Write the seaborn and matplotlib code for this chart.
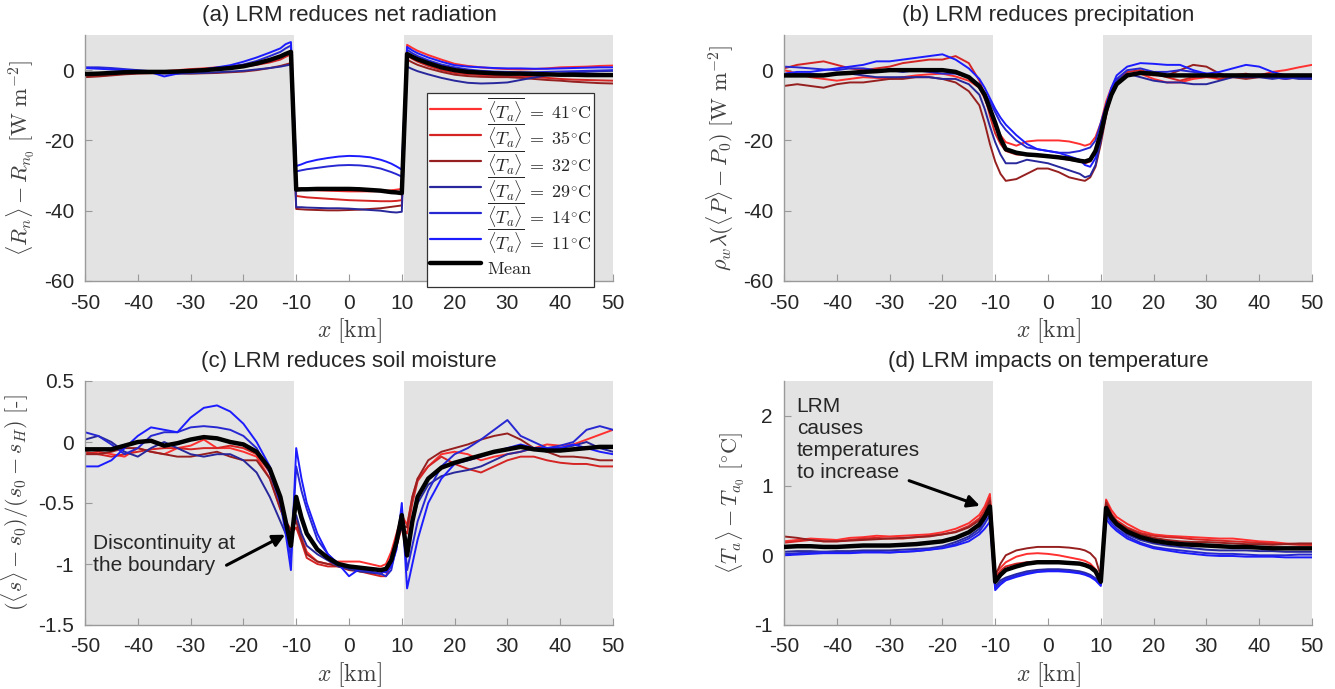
import numpy as np
import pandas as pd
import matplotlib
matplotlib.use("Agg")
import matplotlib.pyplot as plt
import seaborn as sns
from matplotlib.lines import Line2D

# ---------------- data ----------------
x_km = [-50, -47.5, -45, -42.5, -40, -37.5, -35, -32.5, -30, -27.5, -25, -22.5, -20, -17.5, -15,
        -13, -12, -11, -10, -9, -8,
        -6, -4, -2, 0, 2, 4, 6,
        7, 8, 9, 10, 11, 12, 13,
        15, 17.5, 20, 22.5, 25, 27.5, 30, 32.5, 35, 37.5, 40, 42.5, 45, 47.5, 50]

run_labels = ["41", "35", "32", "29", "14", "11"]
run_colors = ["#ff3030", "#d42424", "#962020", "#28289c", "#2828d2", "#1c1cff"]

# (a) net radiation
rn_41 = [-1.5, -1.2, -1.0, -0.8, -0.6, -0.5, -0.3, 0.0, 0.3, 0.5, 0.8, 1.0, 1.5, 2.0, 2.8,
         3.8, 4.6, 5.5, -33.5, -33.8, -34.0,
         -34.2, -34.3, -34.4, -34.5, -34.5, -34.5, -34.4,
         -34.3, -34.2, -34.0, -33.8, 7.2, 6.3, 5.5,
         4.3, 3.0, 1.8, 1.2, 0.8, 0.5, 0.3, 0.2, 0.3, 0.5, 0.8, 0.9, 1.0, 1.2, 1.3]
rn_35 = [-1.8, -1.6, -1.3, -1.0, -0.8, -0.7, -0.6, -0.4, -0.2, 0.0, 0.3, 0.6, 1.0, 1.5, 2.2,
         3.0, 3.8, 4.5, -35.8, -36.0, -36.2,
         -36.4, -36.6, -36.8, -37.0, -37.1, -37.2, -37.3,
         -37.3, -37.3, -37.2, -37.0, 4.2, 3.2, 2.4,
         1.2, 0.0, -0.8, -1.2, -1.4, -1.6, -1.7, -1.8, -2.0, -2.2, -2.5, -2.7, -2.8, -2.9, -3.0]
rn_32 = [-2.0, -1.8, -1.5, -1.2, -1.0, -0.9, -0.8, -0.9, -1.0, -0.9, -0.8, -0.6, -0.4, 0.0, 0.6,
         1.2, 1.6, 2.0, -39.5, -39.6, -39.7,
         -39.8, -39.9, -39.9, -39.8, -39.7, -39.5, -39.3,
         -39.1, -38.9, -38.7, -38.5, 3.0, 2.2, 1.5,
         0.5, -0.5, -1.3, -1.7, -1.9, -2.0, -2.0, -2.2, -2.5, -2.8, -3.0, -3.3, -3.5, -3.7, -3.8]
rn_29 = [-1.2, -1.0, -0.8, -0.6, -0.6, -0.8, -1.0, -1.0, -0.9, -0.8, -0.6, -0.4, -0.2, 0.2, 0.6,
         1.0, 1.3, 1.6, -39.0, -39.0, -39.1,
         -39.2, -39.3, -39.3, -39.4, -39.6, -39.8, -40.0,
         -40.2, -40.4, -40.5, -40.3, 1.0, 0.3, -0.3,
         -1.2, -2.2, -3.0, -3.6, -3.8, -3.7, -3.5, -2.8, -2.1, -1.5, -1.0, -0.7, -0.5, -0.3, -0.2]
rn_14 = [0.8, 0.8, 0.6, 0.3, 0.0, -0.3, -0.8, -0.5, -0.2, 0.2, 0.6, 1.0, 1.6, 2.6, 4.0,
         5.2, 6.2, 7.0, -28.8, -28.5, -28.2,
         -27.8, -27.4, -27.1, -27.0, -27.1, -27.4, -28.0,
         -28.5, -29.0, -29.6, -30.3, 5.8, 4.8, 4.0,
         2.8, 1.6, 0.8, 0.2, -0.2, -0.4, -0.5, -0.6, -0.6, -0.5, -0.4, -0.3, -0.2, -0.1, 0.0]
rn_11 = [0.6, 0.4, 0.2, 0.0, -0.2, -0.6, -1.8, -1.0, -0.4, 0.2, 0.8, 1.4, 2.4, 3.6, 5.0,
         6.2, 7.4, 8.0, -27.3, -26.8, -26.2,
         -25.5, -25.0, -24.6, -24.4, -24.5, -24.8, -25.5,
         -26.0, -26.6, -27.4, -28.3, 6.6, 5.6, 4.8,
         3.6, 2.4, 1.4, 1.0, 0.8, 0.6, 0.5, 0.5, 0.4, 0.4, 0.5, 0.6, 0.7, 0.8, 0.8]
rn_mean = [-1.1, -1.0, -0.8, -0.6, -0.5, -0.5, -0.5, -0.4, -0.2, 0.0, 0.3, 0.6, 1.1, 1.9, 2.9,
           3.9, 4.6, 5.2, -34.0, -33.9, -33.9,
           -33.8, -33.8, -33.8, -33.8, -33.9, -34.1, -34.3,
           -34.5, -34.7, -34.8, -35.0, 4.6, 3.8, 3.1,
           2.0, 0.8, 0.0, -0.5, -0.7, -0.9, -1.0, -1.0, -1.1, -1.2, -1.3, -1.3, -1.4, -1.4, -1.4]

# (b) precipitation
pr_41 = [0.0, -1.0, -2.0, -2.5, -3.0, -2.5, -2.0, -2.2, -2.5, -2.0, -1.5, -1.2, -1.0, -1.8, -3.0,
         -5.0, -8.0, -12.0, -16.0, -18.5, -20.5,
         -21.5, -20.3, -20.0, -20.0, -20.0, -20.3, -21.0,
         -21.5, -21.0, -19.0, -15.0, -9.0, -5.0, -3.0,
         -1.5, -1.0, -2.5, -3.5, -3.5, -2.5, -2.0, -2.5, -2.0, -1.5, -1.5, -0.5, 0.0, 0.8, 1.5]
pr_35 = [0.5, 1.5, 2.0, 2.5, 1.5, 0.5, 0.0, 0.5, 1.0, 2.0, 2.5, 3.0, 3.0, 4.0, 2.0,
         -3.0, -7.0, -13.0, -18.0, -21.0, -23.0,
         -24.0, -24.2, -24.5, -24.5, -25.0, -25.5, -26.0,
         -26.5, -26.0, -23.0, -17.0, -11.0, -6.0, -3.0,
         -0.5, 0.0, -1.0, -2.0, -3.0, -2.0, -1.5, -2.5, -1.5, -1.0, -2.0, -1.5, -2.0, -1.5, -1.5]
pr_32 = [-4.5, -4.0, -4.5, -5.0, -4.0, -3.5, -3.5, -3.0, -2.5, -2.5, -2.0, -2.0, -2.5, -3.5, -6.0,
         -10.0, -15.0, -21.0, -26.0, -29.5, -31.5,
         -31.0, -29.5, -28.0, -28.0, -29.0, -30.5, -31.2,
         -31.5, -30.5, -27.5, -21.0, -13.0, -7.0, -3.5,
         -1.0, -1.0, -1.5, -1.5, 0.0, 1.5, 1.0, -1.0, -2.0, -2.5, -2.0, -2.0, -2.5, -2.0, -2.5]
pr_29 = [-1.5, -1.0, -1.0, -1.5, -1.0, -1.0, -1.5, -2.0, -2.0, -2.0, -2.0, -2.0, -2.5, -2.5, -4.0,
         -7.0, -11.0, -16.0, -20.5, -24.0, -26.5,
         -26.5, -25.5, -26.0, -26.5, -27.5, -28.5, -29.5,
         -30.5, -30.0, -27.0, -20.0, -12.0, -6.0, -3.0,
         -1.0, -2.0, -3.0, -3.5, -3.5, -4.0, -4.0, -3.0, -2.0, -2.0, -2.0, -2.5, -2.0, -2.5, -2.5]
pr_14 = [1.0, 0.8, 0.5, 0.2, 0.0, 0.5, 0.5, 0.0, 0.0, -0.5, 0.0, -0.5, -1.0, -1.0, -2.0,
         -4.0, -6.5, -9.0, -12.0, -15.0, -17.0,
         -20.0, -22.0, -22.5, -23.0, -23.5, -23.5, -23.0,
         -22.5, -22.0, -20.0, -15.0, -10.0, -5.5, -2.5,
         0.0, 0.5, -0.5, -0.5, 0.0, -0.5, -1.0, -1.5, -1.5, -2.0, -1.5, -2.0, -2.5, -2.0, -2.0]
pr_11 = [-1.0, -0.5, -0.5, 0.0, 0.5, 1.0, 1.5, 2.5, 2.5, 3.0, 3.5, 4.0, 4.5, 3.0, 0.5,
         -2.5, -5.0, -8.0, -11.0, -13.5, -15.5,
         -18.5, -21.0, -22.5, -23.0, -23.5, -24.5, -25.5,
         -27.0, -27.5, -25.0, -18.0, -10.0, -5.0, -1.5,
         1.0, 2.0, 1.8, 1.5, 1.5, 0.0, -1.0, -0.5, 0.5, 1.5, 1.0, -0.5, -1.5, -2.0, -2.0]
pr_mean = [-1.5, -1.5, -1.5, -1.5, -1.0, -0.8, -0.5, -0.3, 0.0, 0.0, 0.0, 0.0, 0.0, -0.5, -2.0,
           -4.6, -7.0, -11.0, -15.0, -19.5, -22.5,
           -23.5, -24.0, -24.2, -24.5, -24.8, -25.2, -25.8,
           -26.0, -25.5, -23.0, -18.0, -11.5, -7.0, -4.0,
           -1.5, -0.8, -1.0, -1.5, -1.5, -1.5, -1.5, -1.5, -1.5, -1.5, -1.5, -1.5, -1.5, -1.5, -1.5]

# (c) soil moisture
sm_41 = [-0.1, -0.08, -0.1, -0.12, -0.05, -0.08, -0.1, -0.05, -0.03, 0.02, -0.05, -0.05, -0.08, -0.12, -0.3,
         -0.55, -0.65, -0.72, -0.62, -0.78, -0.9,
         -0.98, -1.0, -0.98, -0.98, -0.98, -1.0, -1.02,
         -1.0, -0.9, -0.75, -0.6, -0.68, -0.45, -0.3,
         -0.2, -0.1, -0.08, -0.1, -0.15, -0.12, -0.1, -0.08, -0.05, -0.02, -0.03, -0.02, 0.02, 0.06, 0.1]
sm_35 = [-0.08, -0.1, -0.12, -0.1, -0.08, -0.06, -0.05, -0.05, -0.06, -0.05, -0.05, -0.03, -0.05, -0.1, -0.25,
         -0.5, -0.65, -0.75, -0.7, -0.82, -0.95,
         -1.0, -1.02, -1.02, -1.04, -1.06, -1.08, -1.1,
         -1.1, -1.0, -0.85, -0.7, -0.75, -0.5, -0.32,
         -0.2, -0.12, -0.18, -0.22, -0.25, -0.2, -0.15, -0.12, -0.12, -0.15, -0.17, -0.18, -0.18, -0.2, -0.2]
sm_32 = [-0.1, -0.1, -0.08, -0.05, -0.05, -0.08, -0.1, -0.12, -0.12, -0.1, -0.08, -0.12, -0.15, -0.15, -0.3,
         -0.55, -0.65, -0.72, -0.65, -0.8, -0.92,
         -0.98, -1.0, -1.02, -1.05, -1.06, -1.07, -1.08,
         -1.05, -0.95, -0.8, -0.68, -0.7, -0.45, -0.3,
         -0.15, -0.08, -0.05, -0.02, 0.02, 0.05, 0.07, 0.02, -0.05, -0.08, -0.12, -0.12, -0.13, -0.15, -0.15]
sm_29 = [0.02, 0.05, 0.0, -0.08, -0.12, -0.05, 0.0, -0.05, -0.1, -0.12, -0.1, -0.1, -0.15, -0.25, -0.45,
         -0.65, -0.75, -0.8, -0.6, -0.75, -0.85,
         -0.92, -0.97, -1.02, -1.04, -1.06, -1.07, -1.08,
         -1.05, -0.95, -0.8, -0.7, -0.85, -0.65, -0.5,
         -0.35, -0.28, -0.25, -0.23, -0.2, -0.15, -0.1, -0.08, -0.05, -0.05, -0.05, -0.03, 0.0, -0.05, -0.08]
sm_14 = [0.08, 0.05, -0.02, -0.1, -0.05, 0.05, 0.08, 0.08, 0.12, 0.13, 0.12, 0.1, 0.05, -0.05, -0.25,
         -0.5, -0.7, -0.95, -0.2, -0.4, -0.55,
         -0.8, -0.92, -1.0, -1.03, -1.05, -1.06, -1.08,
         -1.1, -1.05, -0.85, -0.55, -1.05, -0.85, -0.65,
         -0.4, -0.2, -0.1, -0.05, 0.02, 0.1, 0.18, 0.05, 0.0, -0.05, -0.03, 0.0, 0.1, 0.13, 0.1]
sm_11 = [-0.2, -0.2, -0.15, -0.05, 0.05, 0.12, 0.1, 0.08, 0.2, 0.28, 0.3, 0.25, 0.15, 0.0, -0.2,
         -0.5, -0.75, -1.05, -0.05, -0.3, -0.5,
         -0.75, -0.92, -1.0, -1.1, -1.04, -1.04, -1.06,
         -1.07, -1.02, -0.88, -0.5, -1.2, -1.0, -0.8,
         -0.5, -0.3, -0.18, -0.15, -0.12, -0.08, -0.05, -0.02, -0.05, -0.05, -0.05, -0.02, -0.05, -0.08, -0.1]
sm_mean = [-0.06, -0.06, -0.06, -0.03, 0.0, 0.01, -0.03, -0.01, 0.02, 0.04, 0.03, 0.0, -0.02, -0.08, -0.22,
           -0.45, -0.65, -0.85, -0.45, -0.62, -0.75,
           -0.88, -0.95, -1.0, -1.02, -1.03, -1.04, -1.05,
           -1.04, -0.97, -0.82, -0.6, -0.93, -0.65, -0.45,
           -0.3, -0.21, -0.17, -0.14, -0.11, -0.08, -0.06, -0.04, -0.06, -0.07, -0.07, -0.06, -0.05, -0.04, -0.04]

# (d) temperature
ta_41 = [0.2, 0.22, 0.24, 0.23, 0.22, 0.25, 0.26, 0.28, 0.27, 0.28, 0.29, 0.3, 0.33, 0.38, 0.46,
         0.58, 0.7, 0.88, -0.25, -0.18, -0.1,
         -0.02, 0.02, 0.03, 0.02, 0.0, -0.03, -0.06,
         -0.08, -0.12, -0.2, -0.38, 0.8, 0.65, 0.55,
         0.45, 0.35, 0.3, 0.28, 0.27, 0.26, 0.25, 0.24, 0.24, 0.22, 0.2, 0.19, 0.17, 0.16, 0.15]
ta_35 = [0.18, 0.2, 0.22, 0.2, 0.2, 0.22, 0.24, 0.25, 0.24, 0.24, 0.26, 0.28, 0.3, 0.34, 0.42,
         0.53, 0.65, 0.82, -0.32, -0.22, -0.16,
         -0.12, -0.1, -0.09, -0.09, -0.09, -0.1, -0.11,
         -0.13, -0.16, -0.22, -0.36, 0.78, 0.6, 0.5,
         0.4, 0.32, 0.28, 0.26, 0.25, 0.23, 0.22, 0.21, 0.2, 0.19, 0.18, 0.17, 0.16, 0.15, 0.15]
ta_32 = [0.27, 0.25, 0.22, 0.2, 0.2, 0.21, 0.22, 0.23, 0.24, 0.25, 0.26, 0.27, 0.3, 0.33, 0.4,
         0.5, 0.6, 0.78, -0.3, -0.12, 0.0,
         0.07, 0.1, 0.12, 0.12, 0.12, 0.11, 0.09,
         0.07, 0.03, -0.05, -0.3, 0.75, 0.58, 0.47,
         0.38, 0.3, 0.25, 0.22, 0.2, 0.19, 0.19, 0.18, 0.17, 0.16, 0.16, 0.15, 0.16, 0.17, 0.17]
ta_29 = [0.05, 0.06, 0.06, 0.05, 0.06, 0.06, 0.07, 0.07, 0.07, 0.08, 0.09, 0.1, 0.13, 0.19, 0.27,
         0.38, 0.5, 0.65, -0.45, -0.36, -0.32,
         -0.27, -0.23, -0.21, -0.2, -0.2, -0.21, -0.23,
         -0.25, -0.28, -0.33, -0.4, 0.62, 0.5, 0.42,
         0.3, 0.22, 0.17, 0.14, 0.12, 0.1, 0.08, 0.07, 0.07, 0.07, 0.06, 0.06, 0.05, 0.05, 0.05]
ta_14 = [0.02, 0.03, 0.04, 0.05, 0.04, 0.04, 0.05, 0.05, 0.04, 0.05, 0.06, 0.08, 0.11, 0.16, 0.24,
         0.34, 0.45, 0.58, -0.47, -0.39, -0.34,
         -0.29, -0.25, -0.23, -0.22, -0.22, -0.23, -0.25,
         -0.27, -0.3, -0.34, -0.42, 0.58, 0.46, 0.38,
         0.27, 0.18, 0.12, 0.09, 0.07, 0.05, 0.03, 0.02, 0.02, 0.01, 0.0, 0.0, 0.0, 0.01, 0.01]
ta_11 = [0.0, 0.01, 0.02, 0.03, 0.03, 0.03, 0.04, 0.04, 0.04, 0.05, 0.06, 0.08, 0.1, 0.14, 0.2,
         0.3, 0.38, 0.48, -0.5, -0.42, -0.36,
         -0.31, -0.27, -0.24, -0.23, -0.23, -0.24, -0.26,
         -0.28, -0.31, -0.36, -0.44, 0.52, 0.42, 0.35,
         0.24, 0.16, 0.1, 0.07, 0.04, 0.02, 0.0, -0.01, -0.01, -0.02, -0.02, -0.02, -0.03, -0.03, -0.03]
ta_mean = [0.12, 0.13, 0.13, 0.12, 0.12, 0.13, 0.14, 0.14, 0.14, 0.15, 0.16, 0.18, 0.2, 0.25, 0.33,
           0.44, 0.55, 0.7, -0.38, -0.28, -0.21,
           -0.16, -0.12, -0.1, -0.1, -0.1, -0.11, -0.12,
           -0.14, -0.17, -0.23, -0.38, 0.68, 0.54, 0.45,
           0.34, 0.26, 0.21, 0.18, 0.16, 0.15, 0.14, 0.13, 0.12, 0.12, 0.11, 0.1, 0.1, 0.1, 0.1]

titles = ["(a) LRM reduces net radiation", "(b) LRM reduces precipitation",
          "(c) LRM reduces soil moisture", "(d) LRM impacts on temperature"]
ylabels = [r"$\langle R_n\rangle - R_{n_0}\ [\mathrm{W\ m^{-2}}]$",
           r"$\rho_w\lambda(\langle P\rangle - P_0)\ [\mathrm{W\ m^{-2}}]$",
           r"$(\langle s\rangle - s_0)/(s_0 - s_H)\ [\mathrm{\text{-}}]$",
           r"$\langle T_a\rangle - T_{a_0}\ [^{\circ}\mathrm{C}]$"]
xticks = [-50, -40, -30, -20, -10, 0, 10, 20, 30, 40, 50]

# ---------------- style ----------------
sns.set_theme(style="white")
plt.rcParams["font.family"] = ["Liberation Sans", "DejaVu Sans"]
plt.rcParams["mathtext.fontset"] = "cm"

fig = plt.figure(figsize=(13.35, 6.89), dpi=100)
W, H = 1335, 689
def add_ax(l, r, t, b):
    return fig.add_axes([l / W, 1 - b / H, (r - l) / W, (b - t) / H])

ax_a = add_ax(85, 613, 35, 281)
ax_b = add_ax(784, 1312, 35, 281)
ax_c = add_ax(85, 613, 381, 625)
ax_d = add_ax(784, 1312, 381, 625)

gray_bg = "#e3e3e3"
spine_col = "#9a9a9a"
txt_col = "#262626"

def draw_panel(ax, runs, mean, ylim, yticks, ytl, ylabel, title):
    ax.axvspan(-50, -10.5, color=gray_bg, lw=0, zorder=0)
    ax.axvspan(10.5, 50, color=gray_bg, lw=0, zorder=0)
    n = len(x_km)
    df = pd.DataFrame({
        "x": np.tile(x_km, len(run_labels)),
        "y": np.concatenate([np.asarray(r, float) for r in runs]),
        "run": np.repeat(run_labels, n),
    })
    sns.lineplot(data=df, x="x", y="y", hue="run", hue_order=run_labels,
                 palette=dict(zip(run_labels, run_colors)), lw=1.4,
                 errorbar=None, legend=False, ax=ax, zorder=2)
    sns.lineplot(x=x_km, y=mean, color="black", lw=3.2, errorbar=None, ax=ax, zorder=3)
    ax.set_xlim(-50, 50)
    ax.set_ylim(*ylim)
    ax.set_xticks(xticks)
    ax.set_xticklabels([str(v) for v in xticks])
    ax.set_yticks(yticks)
    ax.set_yticklabels(ytl)
    for s in ["top", "right"]:
        ax.spines[s].set_visible(False)
    for s in ["left", "bottom"]:
        ax.spines[s].set_color(spine_col)
        ax.spines[s].set_linewidth(1.0)
    ax.tick_params(axis="both", direction="in", length=5, width=0.8, color=spine_col,
                   labelsize=15, labelcolor=txt_col, bottom=True, left=True)
    ax.tick_params(axis="x", pad=9)
    ax.tick_params(axis="y", pad=8)
    ax.set_xlabel(r"$x\ [\mathrm{km}]$", fontsize=17, color="#404040", labelpad=3)
    ax.set_ylabel(ylabel, fontsize=16, color="#404040", labelpad=5)
    ax.set_title(title, fontsize=16, color=txt_col, pad=10)

draw_panel(ax_a, [rn_41, rn_35, rn_32, rn_29, rn_14, rn_11], rn_mean, (-60, 10),
           [-60, -40, -20, 0], ["-60", "-40", "-20", "0"], ylabels[0], titles[0])
draw_panel(ax_b, [pr_41, pr_35, pr_32, pr_29, pr_14, pr_11], pr_mean, (-60, 10),
           [-60, -40, -20, 0], ["-60", "-40", "-20", "0"], ylabels[1], titles[1])
draw_panel(ax_c, [sm_41, sm_35, sm_32, sm_29, sm_14, sm_11], sm_mean, (-1.5, 0.5),
           [-1.5, -1, -0.5, 0, 0.5], ["-1.5", "-1", "-0.5", "0", "0.5"], ylabels[2], titles[2])
draw_panel(ax_d, [ta_41, ta_35, ta_32, ta_29, ta_14, ta_11], ta_mean, (-1, 2.5),
           [-1, 0, 1, 2], ["-1", "0", "1", "2"], ylabels[3], titles[3])

# legend in panel (a): a tall handle box gives every row (incl. "Mean") the same height
leg_labels = [r"$\overline{\langle T_a\rangle}\;=\;%s^{\circ}\mathrm{C}$" % t for t in run_labels] + [r"$\mathrm{Mean}$"]
handles = [Line2D([0], [0], color=c, lw=1.6) for c in run_colors] + [Line2D([0], [0], color="black", lw=3.2)]
leg = ax_a.legend(handles, leg_labels, loc="upper left", bbox_to_anchor=(0.648, 0.765),
                  fontsize=13, frameon=True, fancybox=False, framealpha=1,
                  edgecolor="#333333", handlelength=2.85, handletextpad=0.3,
                  handleheight=2.3, labelspacing=-0.42, borderpad=0.15, borderaxespad=0)
leg.get_frame().set_linewidth(0.9)

# annotations
arrow_kw = dict(arrowstyle="-|>", color="black", lw=2.2, mutation_scale=18, shrinkA=0, shrinkB=0)
ax_c.text(-48.5, -0.92, "Discontinuity at\nthe boundary", fontsize=15, color=txt_col,
          va="center", ha="left", linespacing=1.2, zorder=5)
ax_c.annotate("", xy=(-12.1, -0.76), xytext=(-23.2, -1.01), arrowprops=arrow_kw, zorder=5)
ax_d.text(-47.6, 1.66, "LRM\ncauses\ntemperatures\nto increase", fontsize=15, color=txt_col,
          va="center", ha="left", linespacing=1.2, zorder=5)
ax_d.annotate("", xy=(-12.9, 0.71), xytext=(-26.3, 1.07), arrowprops=arrow_kw, zorder=5)

fig.savefig("out.png", dpi=100)
